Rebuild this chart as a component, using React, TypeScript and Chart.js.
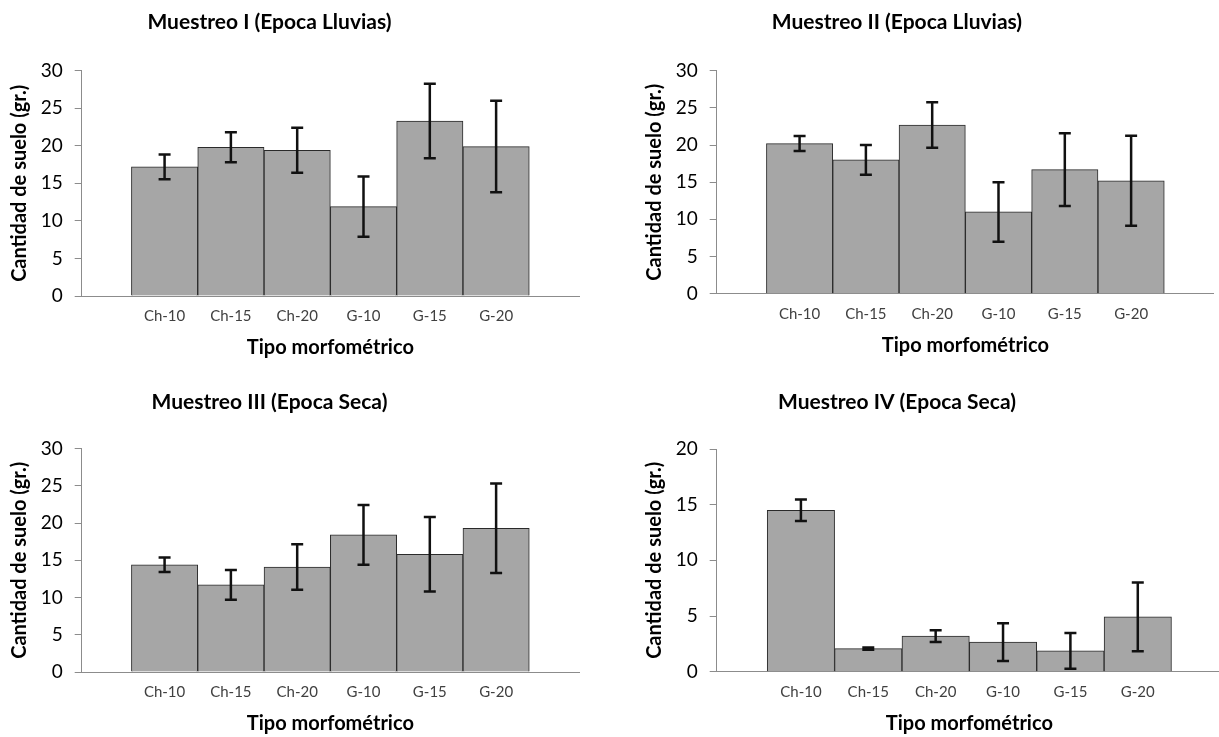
import React, { useEffect, useRef } from "react";
import { Chart, registerables } from "chart.js";

Chart.register(...registerables);

const categories = ["Ch-10", "Ch-15", "Ch-20", "G-10", "G-15", "G-20"];

const meansI = [17.2, 19.8, 19.4, 11.9, 23.3, 19.9];
const errorsI = [1.65, 2.0, 3.0, 4.0, 4.95, 6.1];

const meansII = [20.2, 18.0, 22.7, 11.0, 16.7, 15.2];
const errorsII = [1.0, 2.0, 3.05, 4.0, 4.9, 6.05];

const meansIII = [14.4, 11.7, 14.1, 18.4, 15.8, 19.3];
const errorsIII = [0.97, 2.0, 3.05, 4.0, 5.0, 6.0];

const meansIV = [14.5, 2.07, 3.2, 2.65, 1.87, 4.92];
const errorsIV = [0.97, 0.1, 0.53, 1.7, 1.6, 3.08];

const panelTitles = [
  "Muestreo I (Epoca Lluvias)",
  "Muestreo II (Epoca Lluvias)",
  "Muestreo III (Epoca Seca)",
  "Muestreo IV (Epoca Seca)",
];
const yAxisTitle = "Cantidad de suelo (gr.)";
const xAxisTitle = "Tipo morfométrico";
const yMaxes = [30, 30, 30, 20];
const yStep = 5;

const FONT = "Lato, 'Open Sans', sans-serif";

type Geo = {
  L: number; T: number; W: number; H: number;
  cl: number; cr: number; ct: number; cb: number;
  titleY: number; yTitleX: number;
};

const geos: Geo[] = [
  { L: -40, T: 0, W: 620, H: 370, cl: 81.7, cr: 579, ct: 70.7, cb: 296, titleY: 22, yTitleX: 20 },
  { L: 580, T: 0, W: 634, H: 370, cl: 716.7, cr: 1214, ct: 70.7, cb: 293.7, titleY: 22, yTitleX: 655 },
  { L: -40, T: 380, W: 620, H: 357, cl: 81.7, cr: 579, ct: 448.5, cb: 672, titleY: 402, yTitleX: 20 },
  { L: 572, T: 380, W: 650, H: 357, cl: 716.7, cr: 1222, ct: 449, cb: 671.7, titleY: 402, yTitleX: 655 },
];

function makeErrorPlugin(errors: number[]) {
  return {
    id: "errorBars",
    afterDatasetsDraw(chart: any) {
      const meta = chart.getDatasetMeta(0);
      const ys = chart.scales.y;
      const ctx = chart.ctx;
      const data = chart.data.datasets[0].data as any[];
      ctx.save();
      ctx.strokeStyle = "#111";
      ctx.lineWidth = 2.5;
      meta.data.forEach((bar: any, i: number) => {
        const v = data[i].y;
        const top = ys.getPixelForValue(v + errors[i]);
        const bot = ys.getPixelForValue(Math.max(0, v - errors[i]));
        const x = bar.x;
        const hw = 6;
        ctx.beginPath();
        ctx.moveTo(x, top);
        ctx.lineTo(x, bot);
        ctx.moveTo(x - hw, top);
        ctx.lineTo(x + hw, top);
        ctx.moveTo(x - hw, bot);
        ctx.lineTo(x + hw, bot);
        ctx.stroke();
      });
      ctx.restore();
    },
  };
}

function Panel({ idx, means, errors }: { idx: number; means: number[]; errors: number[] }) {
  const ref = useRef<HTMLCanvasElement | null>(null);
  const g = geos[idx];
  useEffect(() => {
    if (!ref.current) return;
    const titleFont = 21;
    const titleLH = titleFont * 1.2;
    const axTitleFont = 20;
    const axTitleLH = axTitleFont * 1.2;
    const tPadTop = g.titleY - g.T - titleLH / 2;
    const tPadBottom = g.ct - (g.T + tPadTop + titleLH);
    const yTitlePad = g.yTitleX - g.L - axTitleLH / 2;
    const xTitleCenter = g.cb + 52;
    const xTitlePad = g.T + g.H - xTitleCenter - axTitleLH / 2;
    const yWidth = g.cl - g.L;
    const xHeight = g.T + g.H - g.cb;
    const padRight = g.L + g.W - g.cr;

    const chart = new Chart(ref.current, {
      type: "bar",
      data: {
        datasets: [
          {
            data: means.map((v, i) => ({ x: i + 1, y: v })),
            backgroundColor: "#a6a6a6",
            borderColor: "#2a2a2a",
            borderWidth: 1,
            barPercentage: 1,
            categoryPercentage: 1,
          },
        ],
      },
      options: {
        animation: false,
        responsive: false,
        maintainAspectRatio: false,
        events: [],
        layout: { padding: { left: 0, right: padRight, top: 0, bottom: 0 } },
        plugins: {
          legend: { display: false },
          tooltip: { enabled: false },
          title: {
            display: true,
            text: panelTitles[idx],
            color: "#000",
            font: { family: FONT, size: titleFont, weight: "bold", lineHeight: 1.2 },
            padding: { top: tPadTop, bottom: tPadBottom },
          },
        },
        scales: {
          x: {
            type: "linear",
            min: -0.25,
            max: 7.25,
            offset: false,
            afterFit: (s: any) => { s.height = xHeight; },
            afterBuildTicks: (s: any) => {
              s.ticks = categories.map((_, i) => ({ value: i + 1 }));
            },
            grid: { display: false, drawTicks: false },
            border: { display: true, color: "#8c8c8c", width: 1 },
            ticks: {
              autoSkip: false,
              maxRotation: 0,
              padding: 11,
              color: "#404040",
              font: { family: FONT, size: 15 },
              callback: (v: any) => categories[Math.round(Number(v)) - 1] ?? "",
            },
            title: {
              display: true,
              text: xAxisTitle,
              color: "#000",
              font: { family: FONT, size: axTitleFont, weight: "bold", lineHeight: 1.2 },
              padding: { top: 0, bottom: xTitlePad },
            },
          },
          y: {
            min: 0,
            max: yMaxes[idx],
            afterFit: (s: any) => { s.width = yWidth; },
            grid: { display: true, drawOnChartArea: false, drawTicks: true, tickLength: 7, color: "#8c8c8c" },
            border: { display: true, color: "#8c8c8c", width: 1 },
            ticks: {
              stepSize: yStep,
              padding: 12,
              color: "#000",
              font: { family: FONT, size: 19 },
            },
            title: {
              display: true,
              text: yAxisTitle,
              color: "#000",
              font: { family: FONT, size: axTitleFont, weight: "bold", lineHeight: 1.2 },
              padding: { top: yTitlePad, bottom: 0 },
            },
          },
        },
      } as any,
      plugins: [makeErrorPlugin(errors)],
    });
    return () => chart.destroy();
  }, [idx, means, errors]);

  return (
    <div style={{ position: "absolute", left: g.L, top: g.T, width: g.W, height: g.H }}>
      <canvas ref={ref} width={g.W} height={g.H} style={{ width: g.W, height: g.H, display: "block" }} />
    </div>
  );
}

export default function App() {
  return (
    <div
      style={{
        position: "absolute",
        left: 0,
        top: 0,
        width: 1219,
        height: 737,
        overflow: "hidden",
        background: "#fff",
      }}
    >
      <Panel idx={0} means={meansI} errors={errorsI} />
      <Panel idx={1} means={meansII} errors={errorsII} />
      <Panel idx={2} means={meansIII} errors={errorsIII} />
      <Panel idx={3} means={meansIV} errors={errorsIV} />
    </div>
  );
}
